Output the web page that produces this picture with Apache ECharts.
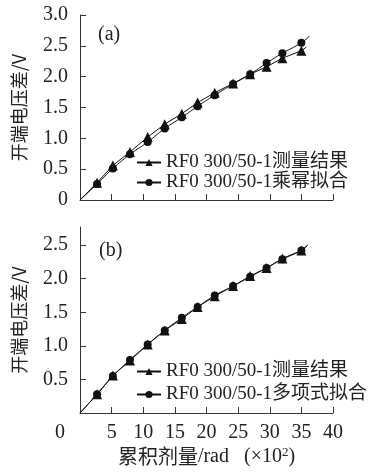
<!DOCTYPE html>
<html>
<head>
<meta charset="utf-8">
<script src="https://cdn.jsdelivr.net/npm/echarts@6/dist/echarts.min.js"></script>
<style>
html,body{margin:0;padding:0;background:#fff;}
#c{width:377px;height:476px;}
</style>
</head>
<body>
<div id="c"></div>
<script>
// ---- data ----
var dose = [2.7, 5.2, 7.9, 10.7, 13.4, 16.1, 18.6, 21.3, 24.2, 26.9, 29.5, 32.0, 35.0];
var measured = [0.28, 0.56, 0.78, 1.02, 1.23, 1.40, 1.58, 1.74, 1.89, 2.04, 2.16, 2.30, 2.42];
var powerFit = [0.26, 0.51, 0.74, 0.94, 1.16, 1.34, 1.52, 1.70, 1.88, 2.04, 2.22, 2.38, 2.55];
var polyFit  = [0.28, 0.55, 0.79, 1.02, 1.23, 1.42, 1.58, 1.75, 1.89, 2.03, 2.16, 2.29, 2.42];
// line start / end points (origin and extension beyond last marker)
var measuredEnds = [[0, 0], [35.8, 2.48]];
var powerEnds = [[0, 0], [36.3, 2.66]];
var measuredEndsB = [[0, 0], [36.0, 2.50]];
var polyEnds = [[0, 0], [36.0, 2.50]];
var xTicks = [0, 5, 10, 15, 20, 25, 30, 35, 40];
var nameMeasured = 'RF0 300/50-1测量结果';
var namePower = 'RF0 300/50-1乘幂拟合';
var namePoly = 'RF0 300/50-1多项式拟合';

function build(xs, ys, ends) {
  var out = [{value: ends[0], symbol: 'none'}];
  for (var i = 0; i < xs.length; i++) out.push([xs[i], ys[i]]);
  out.push({value: ends[1], symbol: 'none'});
  return out;
}

var serif = "'Liberation Serif', 'Times New Roman', 'Noto Sans CJK SC', serif";
var cjk = "'Noto Sans CJK SC', sans-serif";
var axisColor = '#333';

function yAxis(gi, max, showZero) {
  return {
    type: 'value', gridIndex: gi, min: 0, max: max, interval: 0.5,
    name: '开端电压差/V', nameLocation: 'middle', nameGap: 52,
    nameTextStyle: {fontFamily: cjk, fontSize: 18, color: '#222'},
    axisLine: {show: true, lineStyle: {color: axisColor, width: 1}},
    axisTick: {show: true, inside: true, length: 6, lineStyle: {color: axisColor}},
    splitLine: {show: false},
    axisLabel: {
      fontFamily: serif, fontSize: 20, color: '#222', margin: 12,
      formatter: function (v) {
        if (v === 0) return showZero ? '0' : '';
        return v.toFixed(1);
      }
    }
  };
}

function xAxis(gi, showLabels) {
  var ax = {
    type: 'value', gridIndex: gi, min: 0, max: 40, interval: 5,
    axisLine: {show: true, onZero: false, lineStyle: {color: axisColor, width: 1}},
    axisTick: {show: true, inside: true, length: 6, lineStyle: {color: axisColor}},
    splitLine: {show: false},
    axisLabel: {show: showLabels, fontFamily: serif, fontSize: 20, color: '#222', margin: 10,
      formatter: function (v) { return v === 0 ? '{z|0}' : String(v); },
      rich: {z: {fontFamily: serif, fontSize: 20, color: '#222', padding: [0, 40, 0, 0]}}
    }
  };
  if (showLabels) {
    ax.name = '{a|累积剂量}{b|/rad   (×10}{s|2}{b|)}';
    ax.nameLocation = 'middle';
    ax.nameGap = 33;
    ax.nameTextStyle = {
      rich: {
        a: {fontFamily: cjk, fontSize: 20, color: '#222'},
        b: {fontFamily: serif, fontSize: 20, color: '#222'},
        s: {fontFamily: serif, fontSize: 13, color: '#222', verticalAlign: 'bottom', padding: [0, 0, 8, 0]}
      }
    };
  }
  return ax;
}

function lineSeries(name, xi, yi, data, symbol, size, smooth) {
  return {
    name: name, type: 'line', xAxisIndex: xi, yAxisIndex: yi,
    data: data, symbol: symbol, symbolSize: size, smooth: smooth,
    showSymbol: true,
    lineStyle: {color: '#111', width: 1},
    itemStyle: {color: '#111'},
    emphasis: {disabled: true},
    animation: false
  };
}

var legendText = {fontFamily: serif, fontSize: 19, color: '#222'};

var option = {
  backgroundColor: '#fff',
  animation: false,
  title: [
    {text: '(a)', left: 93, top: 20, textStyle: {fontFamily: serif, fontSize: 20, fontWeight: 'normal', color: '#222'}},
    {text: '(b)', left: 94, top: 236, textStyle: {fontFamily: serif, fontSize: 20, fontWeight: 'normal', color: '#222'}}
  ],
  grid: [
    {left: 80, right: 44, top: 15, height: 185},
    {left: 80, right: 44, top: 227, height: 186}
  ],
  xAxis: [xAxis(0, false), xAxis(1, true)],
  yAxis: [yAxis(0, 3.0, true), yAxis(1, 2.77, false)],
  legend: [
    {orient: 'vertical', left: 134, top: 151, itemGap: 1, itemWidth: 24, itemHeight: 9, padding: [2, 2, 2, 2],
      data: [nameMeasured, namePower], textStyle: legendText, selectedMode: false},
    {orient: 'vertical', left: 134, top: 360, itemGap: 4, itemWidth: 24, itemHeight: 9, padding: [2, 2, 2, 2],
      data: [nameMeasured, namePoly], textStyle: legendText, selectedMode: false}
  ],
  series: [
    lineSeries(nameMeasured, 0, 0, build(dose, measured, measuredEnds), 'triangle', 10, false),
    lineSeries(namePower, 0, 0, build(dose, powerFit, powerEnds), 'circle', 8, true),
    lineSeries(nameMeasured, 1, 1, build(dose, measured, measuredEndsB), 'triangle', 10, false),
    lineSeries(namePoly, 1, 1, build(dose, polyFit, polyEnds), 'circle', 8, true)
  ]
};

var chart = echarts.init(document.getElementById('c'), null, {renderer: 'canvas'});
chart.setOption(option);
</script>
</body>
</html>
